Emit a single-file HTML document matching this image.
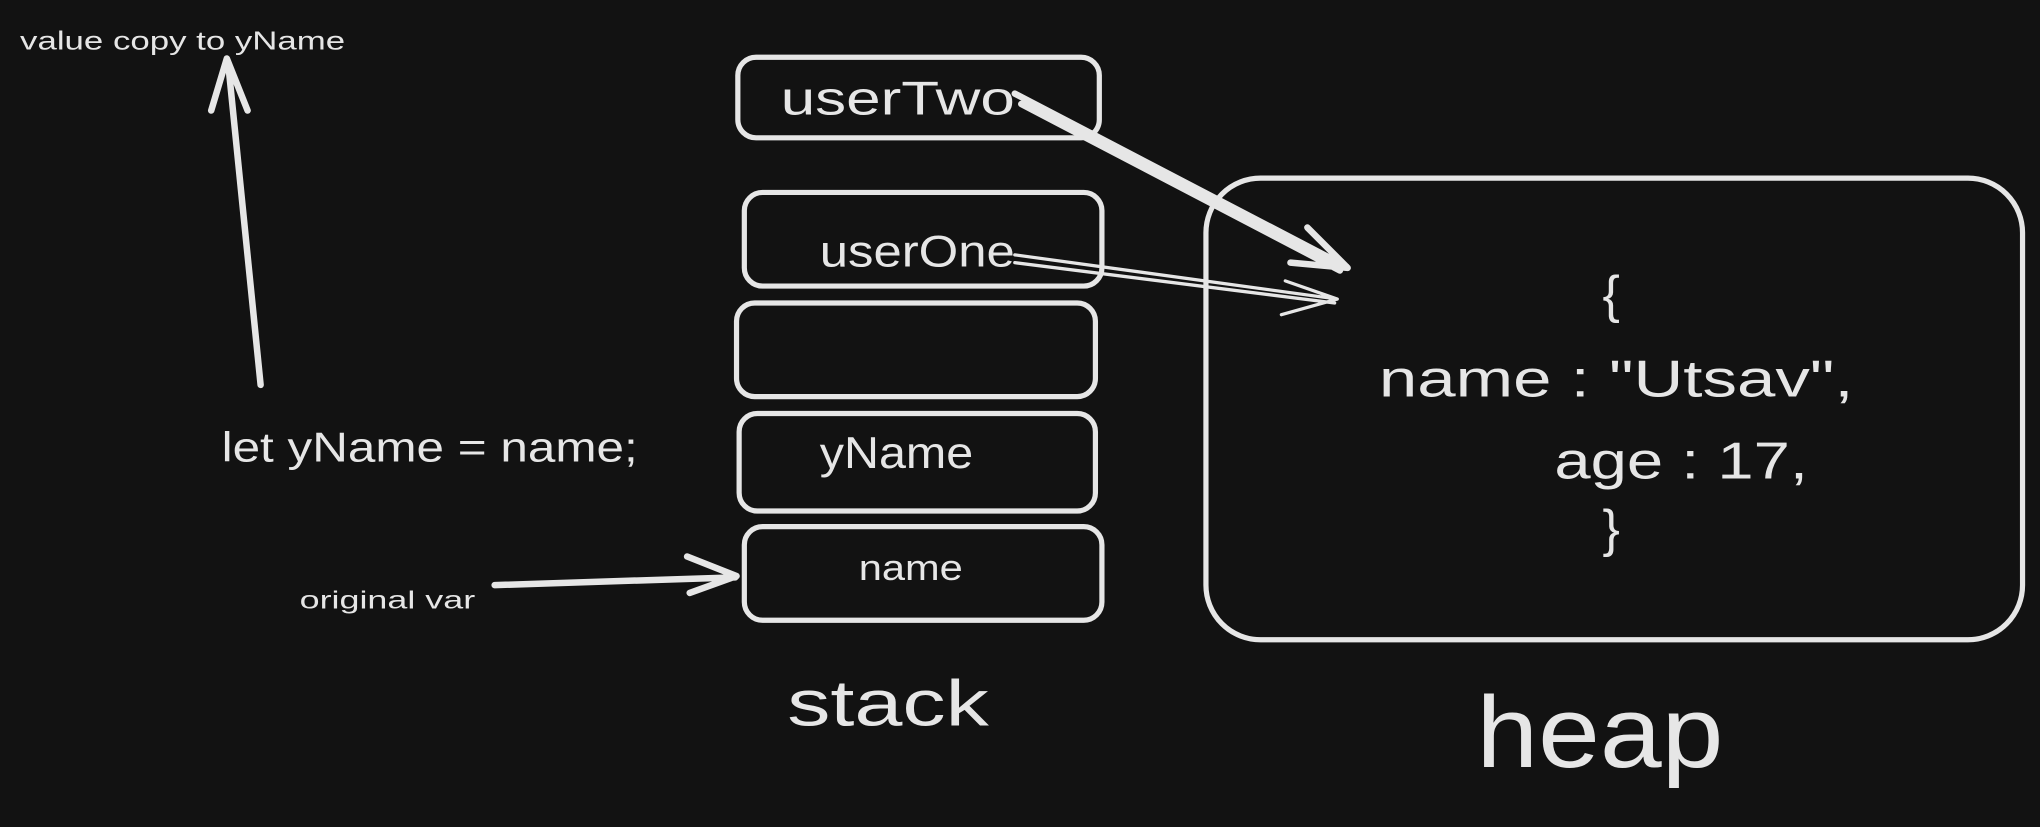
<!DOCTYPE html>
<html><head><style>
html,body{margin:0;padding:0;background:#121212;}
svg{display:block}
text{fill:#e6e6e6;font-family:"Liberation Sans",sans-serif;}
</style></head><body>
<svg width="2040" height="827" viewBox="0 0 1568 636" xmlns="http://www.w3.org/2000/svg">
<rect width="1568" height="636" fill="#121212"/>
<g fill="none" stroke="#e6e6e6" stroke-width="4" stroke-linecap="round" stroke-linejoin="round">
<rect x="567" y="44" width="278" height="62" rx="14"/>
<rect x="572" y="148" width="275" height="72" rx="14"/>
<rect x="566" y="233" width="276" height="72" rx="14"/>
<rect x="568" y="318" width="274" height="75" rx="14"/>
<rect x="572" y="405" width="275" height="72" rx="14"/>
<rect x="927" y="137" width="628" height="355" rx="42"/>
<path d="M200 296 L175 48 M162 85 L174 45 L190 85" stroke-width="5"/>
<path d="M380 450 L565 444 M528 428 L566 443 L530 456" stroke-width="5"/>
<path d="M780 72 L1035 205 M785 80 L1030 208 M1005 175 L1036 206 L992 202" stroke-width="5"/>
<path d="M780 196 L1028 230 M780 202 L1026 233 M988 216 L1028 230 L985 242" stroke-width="2.5"/>
</g>
<text x="15" y="38" font-size="20" textLength="250" lengthAdjust="spacingAndGlyphs">value copy to yName</text>
<text x="170" y="355" font-size="32" textLength="320" lengthAdjust="spacingAndGlyphs">let yName = name;</text>
<text x="230" y="468" font-size="19" textLength="135" lengthAdjust="spacingAndGlyphs">original var</text>
<text x="600" y="88" font-size="36" textLength="180" lengthAdjust="spacingAndGlyphs">userTwo</text>
<text x="630" y="205" font-size="34" textLength="150" lengthAdjust="spacingAndGlyphs">userOne</text>
<text x="630" y="360" font-size="34" textLength="118" lengthAdjust="spacingAndGlyphs">yName</text>
<text x="660" y="446" font-size="28" textLength="80" lengthAdjust="spacingAndGlyphs">name</text>
<text x="605" y="558" font-size="50" textLength="155" lengthAdjust="spacingAndGlyphs">stack</text>
<text x="1232" y="240" font-size="40">{</text>
<text x="1060" y="305" font-size="40" textLength="365" lengthAdjust="spacingAndGlyphs">name : "Utsav",</text>
<text x="1195" y="368" font-size="40" textLength="195" lengthAdjust="spacingAndGlyphs">age : 17,</text>
<text x="1232" y="420" font-size="40">}</text>
<text x="1135" y="590" font-size="78" textLength="190" lengthAdjust="spacingAndGlyphs">heap</text>
</svg>
</body></html>
